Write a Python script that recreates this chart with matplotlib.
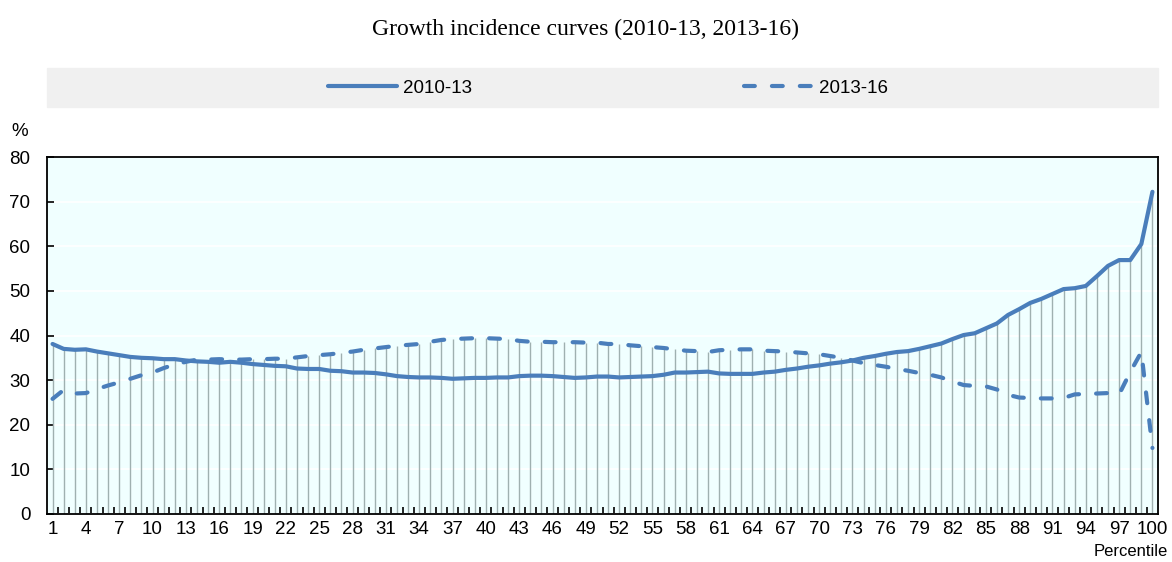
# Growth incidence curves for two periods, by percentile
import matplotlib.pyplot as plt
from matplotlib.patches import Rectangle

TITLE = 'Growth incidence curves (2010-13, 2013-16)'

percentiles = list(range(1, 101))

growth_2010_13 = [
    38.1, 37.0, 36.8, 36.9, 36.4, 36.0, 35.6, 35.2, 35.0, 34.9,
    34.7, 34.7, 34.4, 34.2, 34.1, 33.9, 34.1, 33.9, 33.6, 33.4,
    33.2, 33.1, 32.6, 32.5, 32.5, 32.1, 32.0, 31.7, 31.7, 31.6,
    31.3, 30.9, 30.7, 30.6, 30.6, 30.5, 30.3, 30.4, 30.5, 30.5,
    30.6, 30.6, 30.9, 31.0, 31.0, 30.9, 30.7, 30.5, 30.6, 30.8,
    30.8, 30.6, 30.7, 30.8, 30.9, 31.2, 31.7, 31.7, 31.8, 31.9,
    31.5, 31.4, 31.4, 31.4, 31.7, 31.9, 32.3, 32.6, 33.0, 33.3,
    33.7, 34.0, 34.4, 35.0, 35.4, 35.9, 36.3, 36.5, 37.0, 37.6,
    38.2, 39.2, 40.1, 40.5, 41.6, 42.7, 44.6, 45.9, 47.3, 48.2,
    49.3, 50.4, 50.6, 51.1, 53.3, 55.6, 56.9, 56.9, 60.5, 72.2,
]

growth_2013_16 = [
    25.8, 27.8, 27.0, 27.1, 28.0, 28.8, 29.5, 30.3, 31.1, 31.7,
    32.7, 33.5, 34.1, 34.6, 34.6, 34.7, 34.6, 34.6, 34.7, 34.7,
    34.8, 34.8, 35.1, 35.4, 35.6, 35.8, 36.1, 36.4, 36.8, 37.1,
    37.4, 37.7, 37.9, 38.1, 38.6, 39.0, 39.2, 39.3, 39.4, 39.4,
    39.3, 39.2, 38.8, 38.6, 38.6, 38.5, 38.5, 38.5, 38.4, 38.4,
    38.1, 38.1, 37.8, 37.6, 37.4, 37.2, 36.9, 36.6, 36.5, 36.3,
    36.7, 36.8, 36.9, 36.9, 36.6, 36.5, 36.4, 36.2, 36.0, 35.8,
    35.4, 35.0, 34.4, 33.8, 33.4, 33.0, 32.5, 32.1, 31.6, 31.2,
    30.6, 29.7, 28.9, 28.7, 28.6, 27.9, 26.7, 26.1, 26.0, 25.9,
    25.9, 26.0, 26.8, 26.9, 27.0, 27.1, 26.8, 31.8, 36.3, 14.8,
]

x_tick_labels = [str(p) for p in range(1, 101, 3)]

BLUE = '#4A7EBB'
SANS = ['Liberation Sans Narrow', 'Liberation Sans', 'DejaVu Sans']


def create():
    plt.rcParams['font.family'] = SANS

    fig = plt.figure(figsize=(11.72, 5.62), dpi=100)
    ax = fig.add_axes([47 / 1172, 48 / 562, 1111 / 1172, 357 / 562])
    ax.set_facecolor('#F0FFFF')

    # white horizontal grid behind everything
    ax.set_yticks(range(0, 81, 10))
    ax.yaxis.grid(True, color='white', linewidth=1.2)
    ax.set_axisbelow(True)

    # drop lines from zero up to the higher of the two curves
    tops = [max(a, b) for a, b in zip(growth_2010_13, growth_2013_16)]
    ax.vlines(percentiles, 0, tops, color='#9FB0B0', linewidth=1, zorder=2)

    ax.plot(percentiles, growth_2010_13, color=BLUE, linewidth=3,
            solid_capstyle='round', solid_joinstyle='round', label='2010-13', zorder=3)
    ax.plot(percentiles, growth_2013_16, color=BLUE, linewidth=3, dashes=(2.6, 4.1),
            dash_capstyle='round', label='2013-16', zorder=3)

    ax.set_xlim(0.5, 100.5)
    ax.set_ylim(0, 80)

    ax.set_xticks(range(1, 101, 3))
    ax.set_xticklabels(x_tick_labels)
    ax.set_xticks([p + 0.5 for p in range(1, 100)], minor=True)
    ax.tick_params(axis='x', which='major', length=0, pad=5, labelsize=13.5)
    ax.tick_params(axis='x', which='minor', direction='in', length=5, width=1.2)
    ax.tick_params(axis='y', direction='in', length=5, width=1.2, pad=12, labelsize=13.5)

    for spine in ax.spines.values():
        spine.set_linewidth(1.3)

    fig.text(20 / 1172, 1 - 131 / 562, '%', fontsize=13.5, ha='center', va='center')
    fig.text(1168 / 1172, 1 - 551 / 562, 'Percentile', fontsize=12, ha='right', va='center')

    fig.text(586 / 1172, 1 - 29 / 562, TITLE, fontsize=17, ha='center', va='center',
             family='Liberation Serif')

    # grey legend band
    fig.patches.append(Rectangle((47 / 1172, 1 - 107 / 562), 1111 / 1172, 39 / 562,
                                 transform=fig.transFigure, color='#F0F0F0', zorder=0))
    fig.legend(loc='center', bbox_to_anchor=(608 / 1172, 1 - 88 / 562), ncol=2,
               frameon=False, fontsize=13.5, handlelength=3.7, handletextpad=0.32,
               columnspacing=14.5)

    fig.savefig('out.png', dpi=100)


if __name__ == '__main__':
    create()
